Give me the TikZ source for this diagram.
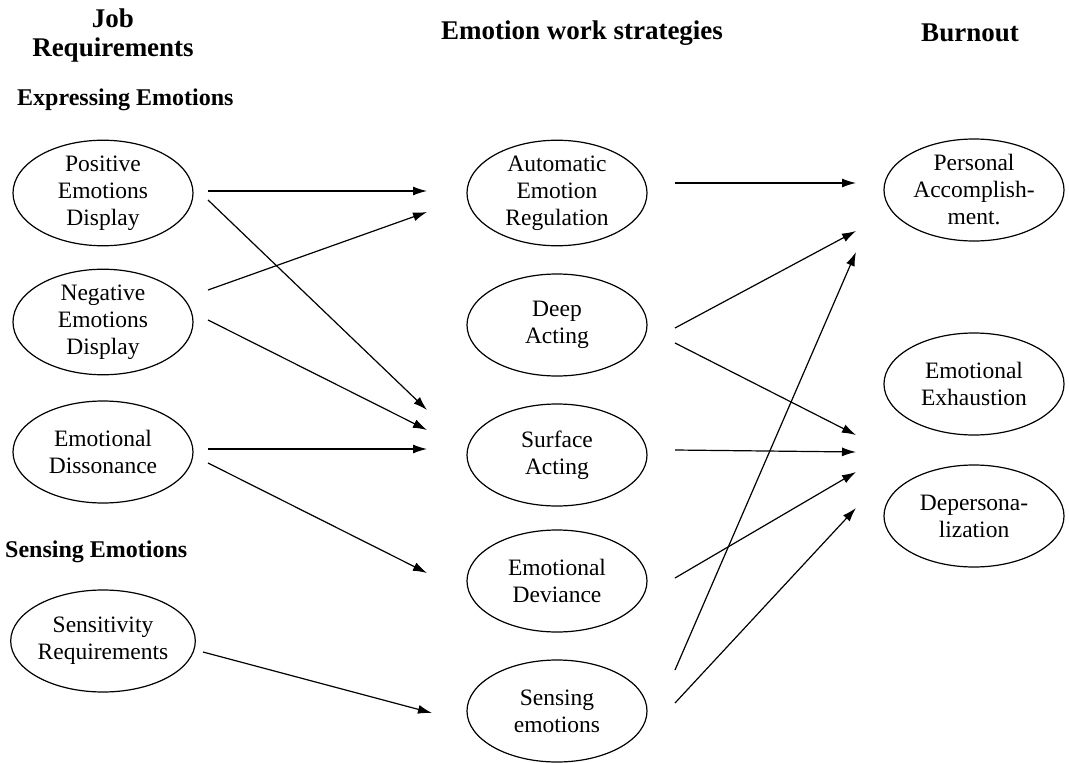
\documentclass[tikz,border=0pt]{standalone}
\usepackage{fontspec}
\setmainfont{Liberation Serif}
\usetikzlibrary{shapes.geometric,arrows.meta}
\tikzset{
  oval/.style={ellipse,draw,line width=1.2pt,minimum width=180pt,minimum height=102pt,inner sep=0pt,align=center,font=\fontsize{23.5}{27}\selectfont},
  head/.style={inner sep=0pt,align=center,font=\fontsize{27}{29}\selectfont\bfseries},
  sub/.style={inner sep=0pt,anchor=west,font=\fontsize{24}{26}\selectfont\bfseries},
  arr/.style={line width=1.2pt,-{Latex[length=14pt,width=9pt]}}
}
\begin{document}
\begin{tikzpicture}[x=1pt,y=-1pt]
\useasboundingbox (0,0) rectangle (1069,763);
% headings
\node[head] (h1) at (113,36) {Job\\Requirements};
\node[head] (h2) at (582,33) {Emotion work strategies};
\node[head] (h3) at (970,33) {Burnout};
\node[sub] (s1) at (17,100) {Expressing Emotions};
\node[sub] (s2) at (5,552) {Sensing Emotions};
% left column
\node[oval] (pos) at (103,193) {Positive\\Emotions\\Display};
\node[oval] (neg) at (103,322) {Negative\\Emotions\\Display};
\node[oval] (dis) at (103,452) {Emotional\\Dissonance};
\node[oval] (sen) at (103,641) {Sensitivity\\Requirements};
% middle column
\node[oval] (aut) at (557,193) {Automatic\\Emotion\\Regulation};
\node[oval] (deep) at (557,325) {Deep\\Acting};
\node[oval] (surf) at (557,455) {Surface\\Acting};
\node[oval] (dev) at (557,581) {Emotional\\Deviance};
\node[oval] (sens) at (557,711) {Sensing\\emotions};
% right column
\node[oval] (pa) at (974,190) {Personal\\Accomplish-\\ment.};
\node[oval] (ee) at (974,384) {Emotional\\Exhaustion};
\node[oval] (dp) at (974,516) {Depersona-\\lization};
% left -> middle
\draw[arr] ([shift={(105,-2)}]pos.center) -- ([shift={(-130,-2)}]aut.center);
\draw[arr] ([shift={(105,7)}]pos.center) -- ([shift={(-130,-45)}]surf.center);
\draw[arr] ([shift={(105,-32)}]neg.center) -- ([shift={(-130,19)}]aut.center);
\draw[arr] ([shift={(105,-2)}]neg.center) -- ([shift={(-130,-25)}]surf.center);
\draw[arr] ([shift={(105,-3)}]dis.center) -- ([shift={(-130,-6)}]surf.center);
\draw[arr] ([shift={(105,11)}]dis.center) -- ([shift={(-130,-8)}]dev.center);
\draw[arr] ([shift={(100,11)}]sen.center) -- ([shift={(-125,2)}]sens.center);
% middle -> right
\draw[arr] ([shift={(118,-10)}]aut.center) -- ([shift={(-118,-7)}]pa.center);
\draw[arr] ([shift={(118,3)}]deep.center) -- ([shift={(-118,41)}]pa.center);
\draw[arr] ([shift={(118,18)}]deep.center) -- ([shift={(-118,51)}]ee.center);
\draw[arr] ([shift={(118,-5)}]surf.center) -- ([shift={(-118,68)}]ee.center);
\draw[arr] ([shift={(118,-3)}]dev.center) -- ([shift={(-118,-44)}]dp.center);
\draw[arr] ([shift={(118,-41)}]sens.center) -- ([shift={(-118,62)}]pa.center);
\draw[arr] ([shift={(118,-8)}]sens.center) -- ([shift={(-118,-8)}]dp.center);
\end{tikzpicture}
\end{document}
